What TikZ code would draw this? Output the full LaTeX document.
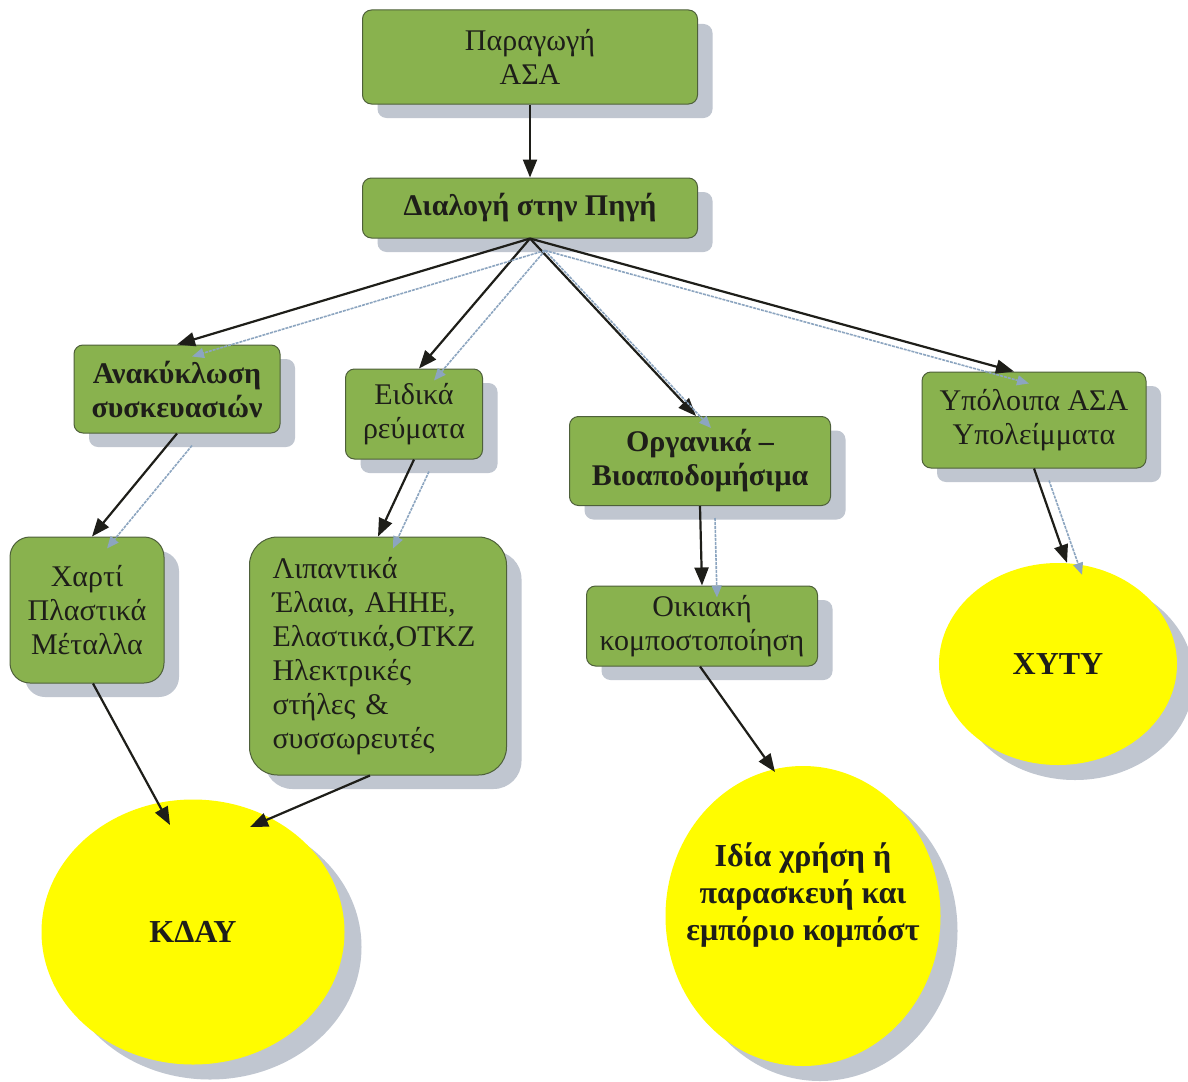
\documentclass[tikz,border=0pt]{standalone}
\usepackage{fontspec}
\setmainfont{Liberation Serif}
\usepackage{tikz}
\usetikzlibrary{shapes.geometric,shadows,arrows.meta}

\definecolor{leaf}{RGB}{137,178,78}
\definecolor{leafline}{RGB}{78,96,58}
\definecolor{shade}{RGB}{192,198,208}
\definecolor{ghost}{RGB}{140,165,192}
\definecolor{sun}{RGB}{255,252,0}
\definecolor{ink}{RGB}{30,30,25}

\begin{document}
\begin{tikzpicture}[x=1pt,y=-1pt,
    box/.style={shape=rectangle, rounded corners=9pt, draw=leafline, line width=1pt, fill=leaf, text=ink, align=center, inner sep=0pt, font=\fontsize{30}{34}\selectfont, drop shadow={shadow xshift=15pt, shadow yshift=-14pt, fill=shade, opacity=1}},
    bold/.style={font=\fontsize{30}{34}\selectfont\bfseries},
    bin/.style={shape=ellipse, fill=sun, text=ink, align=center, inner sep=0pt, font=\fontsize{32}{37}\selectfont\bfseries, drop shadow={shadow xshift=17pt, shadow yshift=-15pt, fill=shade, opacity=1}},
    link/.style={draw=ink, line width=2.2pt, -{Triangle[length=18pt,width=14pt]}},
    echo/.style={draw=ghost, line width=1.6pt, dash pattern=on 3pt off 1pt, -{Triangle[length=12pt,width=10pt]}}]
    \useasboundingbox[fill=white] (0,0) rectangle (1188,1081);

    \node[box, minimum width=335pt, minimum height=94pt] (src) at (530,57) {Παραγωγή\\ΑΣΑ};
    \node[box, bold, minimum width=335pt, minimum height=60pt] (sort) at (530,208) {Διαλογή στην Πηγή};

    \node[box, bold, minimum width=206pt, minimum height=88pt] (recyc) at (177,389) {Ανακύκλωση\\συσκευασιών};
    \node[box, minimum width=137pt, minimum height=90pt] (spec) at (414,414) {Ειδικά\\ρεύματα};
    \node[box, bold, minimum width=261pt, minimum height=89pt] (organ) at (700,461) {Οργανικά –\\Βιοαποδομήσιμα};
    \node[box, minimum width=224pt, minimum height=96pt] (rest) at (1034,420) {Υπόλοιπα ΑΣΑ\\Υπολείμματα};

    \node[box, rounded corners=20pt, minimum width=154pt, minimum height=146pt] (paper) at (87,610) {Χαρτί\\Πλαστικά\\Μέταλλα};
    \node[box, rounded corners=28pt, minimum width=257pt, minimum height=238pt, text width=211pt, align=left] (oils) at (378,656) {Λιπαντικά\\Έλαια, ΑΗΗΕ,\\Ελαστικά,ΟΤΚΖ\\Ηλεκτρικές\\στήλες \&\\συσσωρευτές};
    \node[box, minimum width=231pt, minimum height=80pt] (home) at (702,626) {Οικιακή\\κομποστοποίηση};

    \node[bin, minimum width=303pt, minimum height=265pt] (kdau) at (193,932) {ΚΔΑΥ};
    \node[bin, minimum width=275pt, minimum height=300pt, label={[font=\fontsize{32}{37}\selectfont\bfseries, text=ink, align=center, yshift=21pt]center:Ιδία χρήση ή\\παρασκευή και\\εμπόριο κομπόστ}] (compost) at (803,916) {};
    \node[bin, minimum width=238pt, minimum height=202pt] (xyty) at (1058,664) {ΧΥΤΥ};

    \draw[link] (src.south) -- (sort.north);
    \draw[link] (sort.south) -- (recyc.north);
    \draw[link] (sort.south) -- ([xshift=5pt]spec.north);
    \draw[link] (sort.south) -- ([xshift=-4pt]organ.north);
    \draw[link] (sort.south) -- ([xshift=-20pt]rest.north);
    \draw[link] (recyc.south) -- ([xshift=5pt]paper.north);
    \draw[link] (spec.south) -- (oils.north);
    \draw[link] (organ.south) -- (home.north);
    \draw[link] (rest.south) -- ([xshift=9pt]xyty.north);
    \draw[link] ([xshift=6pt]paper.south) -- ([shift={(-23,-107)}]kdau.center);
    \draw[link] ([xshift=-8pt]oils.south) -- ([shift={(57,-105)}]kdau.center);
    \draw[link] ([xshift=-2pt]home.south) -- ([shift={(-28,-144)}]compost.center);

    \begin{scope}[transform canvas={xshift=15pt,yshift=-12pt}]
    \draw[echo] (sort.south) -- (recyc.north);
    \draw[echo] (sort.south) -- ([xshift=5pt]spec.north);
    \draw[echo] (sort.south) -- ([xshift=-4pt]organ.north);
    \draw[echo] (sort.south) -- ([xshift=-20pt]rest.north);
    \draw[echo] (recyc.south) -- ([xshift=5pt]paper.north);
    \draw[echo] (spec.south) -- (oils.north);
    \draw[echo] (organ.south) -- (home.north);
    \draw[echo] (rest.south) -- ([xshift=9pt]xyty.north);
    \end{scope}
\end{tikzpicture}
\end{document}
